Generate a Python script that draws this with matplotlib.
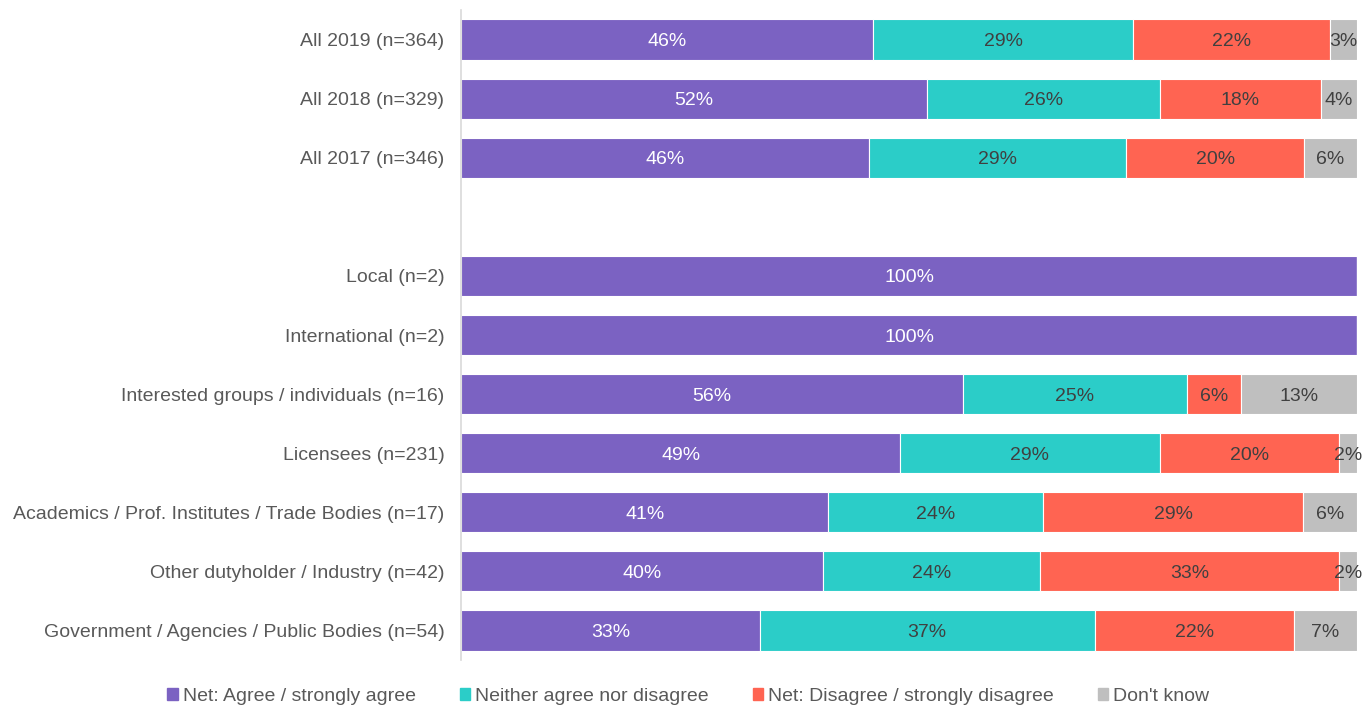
import matplotlib.pyplot as plt
import numpy as np
from matplotlib.patches import Rectangle

plt.rcParams['font.family'] = ['Liberation Sans', 'DejaVu Sans']

# rows from top to bottom; the empty string is the spacer row
groups = ["All 2019 (n=364)", "All 2018 (n=329)", "All 2017 (n=346)", "",
          "Local (n=2)", "International (n=2)", "Interested groups / individuals (n=16)",
          "Licensees (n=231)", "Academics / Prof. Institutes / Trade Bodies (n=17)",
          "Other dutyholder / Industry (n=42)", "Government / Agencies / Public Bodies (n=54)"]

agree = [46, 52, 46, 0, 100, 100, 56, 49, 41, 40, 33]
neither = [29, 26, 29, 0, 0, 0, 25, 29, 24, 24, 37]
disagree = [22, 18, 20, 0, 0, 0, 6, 20, 29, 33, 22]
dont_know = [3, 4, 6, 0, 0, 0, 13, 2, 6, 2, 7]

series_names = ["Net: Agree / strongly agree", "Neither agree nor disagree",
                "Net: Disagree / strongly disagree", "Don't know"]
colors = ["#7B62C2", "#2BCDC8", "#FF6452", "#BFBFBF"]
text_colors = ["white", "#404040", "#404040", "#404040"]

vals = np.array([agree, neither, disagree, dont_know], dtype=float)
totals = vals.sum(axis=0)
totals[totals == 0] = 1
# 100% stacked: scale each row so the segments fill the bar
shares = vals / totals * 100

fig = plt.figure(figsize=(13.63, 7.05), dpi=100)
ax = fig.add_axes([0.3383, 0.0638, 0.6573, 0.922])

y = np.arange(len(groups))
left = np.zeros(len(groups))
for i in range(4):
    ax.barh(y, shares[i], left=left, height=0.68, color=colors[i],
            edgecolor="white", linewidth=0.8)
    for j in range(len(groups)):
        if vals[i, j] > 0:
            ax.text(left[j] + shares[i, j] / 2, y[j], f"{int(vals[i, j])}%",
                    ha="center", va="center_baseline", fontsize=14, color=text_colors[i])
    left += shares[i]

ax.set_xlim(0, 100)
ax.set_ylim(len(groups) - 0.5, -0.5)
ax.set_yticks(y)
ax.set_yticklabels(groups, fontsize=14, color="#595959")
ax.tick_params(axis="y", length=0, pad=12)
ax.set_xticks([])
for s in ["top", "right", "bottom"]:
    ax.spines[s].set_visible(False)
ax.spines["left"].set_color("#D9D9D9")
ax.spines["left"].set_linewidth(1.2)

handles = [Rectangle((0, 0), 1, 1, color=c) for c in colors]
fig.legend(handles, series_names, loc="center", bbox_to_anchor=(0.505, 0.012),
           ncol=4, frameon=False, fontsize=14, labelcolor="#595959",
           handlelength=0.55, handleheight=0.55, handletextpad=0.25, columnspacing=2.25)

fig.savefig("out.png", dpi=100)
